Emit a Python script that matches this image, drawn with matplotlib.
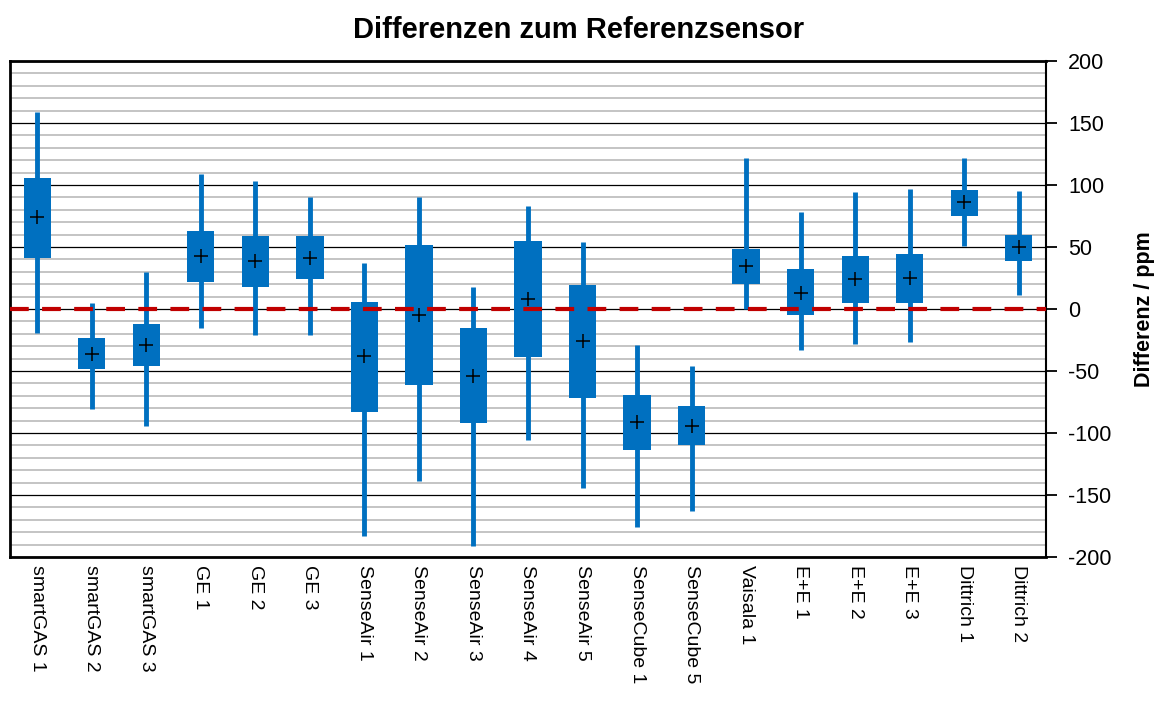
import numpy as np
import matplotlib.pyplot as plt
from matplotlib.ticker import MultipleLocator

plt.rcParams['font.family'] = ['Liberation Sans', 'DejaVu Sans']
plt.rcParams['axes.unicode_minus'] = False

# Sensoren
labels = ['smartGAS 1', 'smartGAS 2', 'smartGAS 3', 'GE 1', 'GE 2', 'GE 3',
          'SenseAir 1', 'SenseAir 2', 'SenseAir 3', 'SenseAir 4', 'SenseAir 5',
          'SenseCube 1', 'SenseCube 5', 'Vaisala 1', 'E+E 1', 'E+E 2', 'E+E 3',
          'Dittrich 1', 'Dittrich 2']

# Werte in ppm
w_min = [-19, -81, -94, -15, -21, -21, -183, -139, -191, -106, -144, -176, -163,
         0, -33, -28, -27, 51, 11]
q1 = [41, -48, -46, 22, 18, 24, -83, -61, -92, -39, -72, -114, -110,
      20, -5, 5, 5, 75, 39]
mittel = [74, -36, -29, 43, 39, 41, -38, -5, -54, 8, -26, -91, -94,
          35, 13, 24, 25, 86, 50]
q3 = [106, -23, -12, 63, 59, 59, 6, 52, -15, 55, 19, -69, -78,
      48, 32, 43, 44, 96, 60]
w_max = [159, 5, 30, 109, 103, 90, 37, 90, 18, 83, 54, -29, -46,
         122, 78, 94, 97, 122, 95]

blau = '#0070C0'
n = len(labels)
x = np.arange(n)

fig = plt.figure(figsize=(11.57, 7.10), dpi=100)
ax = fig.add_axes([0.0086, 0.2155, 0.8955, 0.6986])

# Gitter
ax.yaxis.set_major_locator(MultipleLocator(50))
ax.yaxis.set_minor_locator(MultipleLocator(10))
ax.grid(which='minor', axis='y', color='#BFBFBF', linewidth=1.3, zorder=0)
ax.grid(which='major', axis='y', color='black', linewidth=0.9, zorder=0)
ax.set_axisbelow(True)

# Whisker, Boxen, Mittelwerte
ax.vlines(x, w_min, w_max, color=blau, linewidth=3.5, zorder=2)
ax.bar(x, np.array(q3) - np.array(q1), bottom=q1, width=0.5, color=blau, zorder=3)
ax.plot(x, mittel, linestyle='none', marker='+', color='black',
        markersize=10, markeredgewidth=1.1, zorder=4)

# Nulllinie
ax.axhline(0, color='#C00000', linewidth=3, dashes=(4.5, 3.2), zorder=5)

ax.set_xlim(-0.5, n - 0.5)
ax.set_ylim(-200, 200)
ax.set_xticks(x)
ax.set_xticklabels(labels, rotation=-90, fontsize=14, va='top', ha='center')
ax.tick_params(axis='x', length=0, pad=6)

ax.yaxis.tick_right()
ax.yaxis.set_label_position('right')
ax.tick_params(axis='y', which='major', direction='out', length=8, width=1.3,
               labelsize=15.5, pad=8)
ax.tick_params(axis='y', which='minor', length=0)
ax.set_ylabel('Differenz / ppm', fontsize=15.5, fontweight='bold', labelpad=16)

for s in ['left', 'top', 'bottom']:
    ax.spines[s].set_linewidth(2)
ax.spines['right'].set_linewidth(1.5)

fig.suptitle('Differenzen zum Referenzsensor', fontsize=21, fontweight='bold',
             x=0.5, y=0.978)

fig.savefig('out.png', dpi=100)
